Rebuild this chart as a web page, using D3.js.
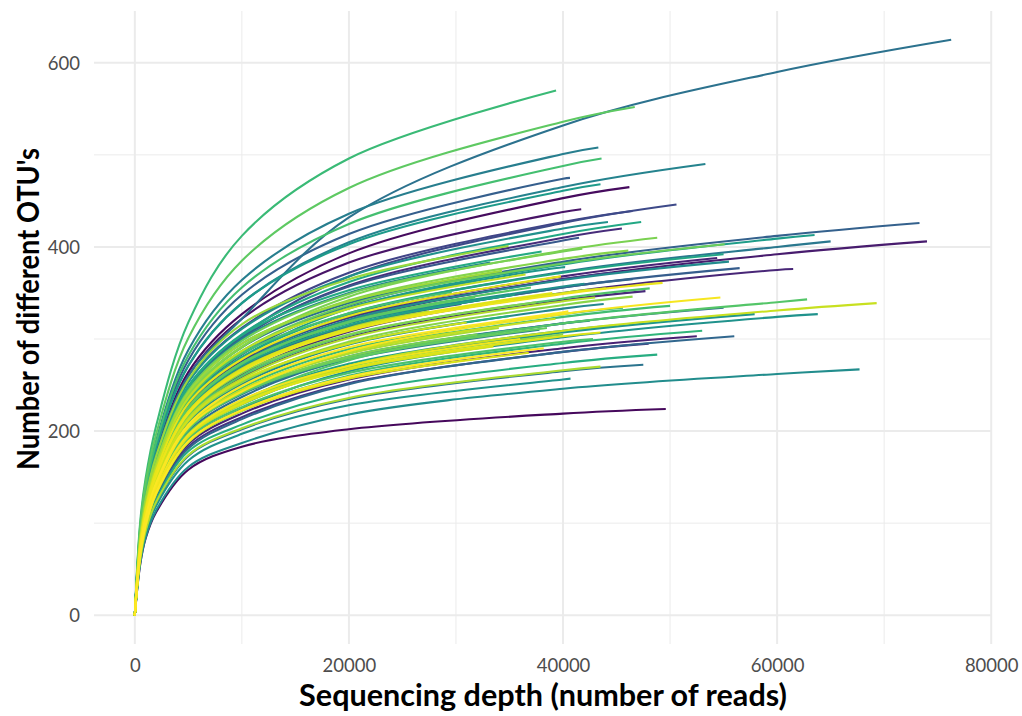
<!DOCTYPE html>
<html><head><meta charset="utf-8">
<script src="https://cdn.jsdelivr.net/npm/d3@7"></script>
<style>body{margin:0;background:#fff;} svg{display:block;} text{font-family: Lato, "Open Sans", sans-serif;}</style>
</head><body><svg id="chart" width="1022" height="716"></svg>
<script>
// depths (reads) at which each curve's OTU count was read
const depthGrid = [500, 1000, 2000, 5000, 10000, 20000, 40000, 60000];
// sample number (categorical, used for the viridis colour and drawing order)
const sampleNo = [3,4,7,10,13,14,12,16,15,19,20,26,29,33,36,39,40,38,41,43,45,46,49,50,52,53,55,54,58,59,60,62,63,65,66,64,68,67,69,71,72,73,75,78,77,79,81,80,85,84,88,89,91,90,92,93,94,95,96,97,98,99,101,102,104,105,103,107,106,108,110,111,112,113,114,115,117,116,118,119,120,121,122,123,124,125,126,127,128,129,130];
// sequencing depth at the end of each curve
const endDepth = [49600,46200,41700,74000,54400,61500,52500,45500,47700,48000,44500,46500,50600,30500,41500,40650,73300,56500,46500,56000,55000,41000,76260,47500,65000,42500,43300,37800,53300,33200,43800,55500,67700,44200,63800,42000,57900,40700,40200,43500,63500,45000,35500,47300,55000,38000,48800,35000,53000,28500,39350,45600,43600,50000,29600,42800,48100,62800,37000,31800,46700,38500,55100,41800,48800,37500,32000,46500,46100,40000,34900,34300,27500,34000,43500,43000,36500,44000,39300,69300,31000,33500,36800,43500,39000,39800,49300,36000,54700,40500,38200];
// number of OTUs at the end of each curve
const endOtu = [224,465,441,406,388,376,303,420,352,295,372,439,446,338,410,475,426,377,365,303,334,385,625,272,406,320,508,310,490,383,338,384,267,427,327,360,327,257,378,468,413,315,348,427,392,395,283,325,309,362,570,334,496,336,351,300,355,343,356,345,552,312,403,398,410,340,305,346,396,305,401,374,330,312,270,345,370,355,322,339,318,292,285,307,350,368,361,300,345,330,290];
// number of OTUs at each depthGrid value (up to the curve's end)
const otuAtGrid = [
 [55,83,112,158,183,202,219],
 [87,129,177,264,327,393,453],
 [86,128,175,260,322,383,438],
 [75,112,153,221,268,319,365,392],
 [77,115,156,228,276,324,368],
 [74,110,151,217,262,308,350,375],
 [64,96,130,186,219,256,290],
 [82,122,167,246,301,358,410],
 [73,109,149,214,258,302,342],
 [63,95,129,183,215,252,286],
 [77,115,157,229,277,323,365],
 [85,125,171,254,312,372,427],
 [83,123,168,248,304,368,426],
 [76,113,154,223,270,314],
 [82,122,168,246,302,357,407],
 [91,135,185,277,348,414,474],
 [79,117,159,233,283,336,384,412],
 [75,112,152,220,266,313,356],
 [75,112,153,221,268,314,356],
 [63,94,128,181,213,251,286],
 [68,102,139,199,237,279,317],
 [80,119,162,238,291,339,383],
 [86,128,175,260,322,432,532,590],
 [60,90,122,173,202,235,265],
 [77,114,155,226,274,326,373,400],
 [69,104,141,202,241,281,317],
 [94,139,190,288,364,436,501],
 [69,103,140,202,240,278],
 [89,133,182,271,339,405,465],
 [82,122,167,245,300,350],
 [71,106,145,209,251,294,333],
 [77,114,155,226,274,321,364],
 [56,84,114,161,187,218,246,262],
 [84,125,171,253,311,368,420],
 [65,97,133,190,224,265,302,324],
 [76,114,155,225,273,317,357],
 [66,99,135,194,229,270,307],
 [59,88,119,168,197,228,256],
 [79,118,161,235,286,334,378],
 [89,133,182,271,339,403,461],
 [78,116,158,231,280,333,381,409],
 [67,101,137,196,233,273,309],
 [76,113,154,224,271,315],
 [83,123,169,249,305,362,414],
 [78,116,158,231,280,328,372],
 [83,123,168,248,304,353],
 [61,92,125,178,207,242,274],
 [72,107,147,212,254,295],
 [64,96,132,188,222,260,295],
 [81,121,165,242,295,341],
 [101,148,206,318,412,496],
 [71,105,143,206,247,289,327],
 [92,137,188,282,356,425,488],
 [70,104,142,205,244,286,324],
 [79,117,160,234,284,328],
 [65,98,134,192,226,263,297],
 [73,110,150,216,260,304,344],
 [67,101,137,198,233,277,317,340],
 [76,114,155,225,273,319],
 [77,114,155,226,274,318],
 [97,143,197,301,385,464,536],
 [69,104,141,202,241,279],
 [80,118,161,236,287,337,382],
 [81,121,166,244,298,349,395],
 [80,119,162,238,291,346,396],
 [74,111,151,218,263,305],
 [70,104,141,204,243,281],
 [72,107,146,211,253,297,337],
 [80,119,163,239,292,342,387],
 [67,100,136,195,232,270],
 [85,126,173,256,316,365],
 [81,121,165,242,295,341],
 [75,112,153,221,268,312],
 [70,104,142,205,244,284],
 [60,91,123,174,203,236,266],
 [73,108,148,214,257,301,341],
 [80,118,161,236,287,333],
 [75,112,152,220,266,310,350],
 [70,105,142,206,245,286],
 [66,99,135,194,229,271,309,331],
 [72,108,147,212,255,295],
 [67,100,136,194,231,267],
 [64,96,132,188,222,257],
 [66,99,135,195,230,268,303],
 [75,112,153,221,267,311],
 [77,115,157,230,278,325],
 [75,111,152,219,265,309,349],
 [67,101,137,196,234,271],
 [70,104,141,204,243,287,327],
 [71,106,144,207,249,291,329],
 [65,97,133,189,223,259]
];
const xTicks = [0, 20000, 40000, 60000, 80000];
const xMinorTicks = [10000, 30000, 50000, 70000];
const yTicks = [0, 200, 400, 600];
const yMinorTicks = [100, 300, 500];
const xTitle = "Sequencing depth (number of reads)";
const yTitle = "Number of different OTU's";

const svg = d3.select("#chart");
const panel = {left: 94, right: 992, top: 11, bottom: 644};
const x = d3.scaleLinear().domain([-3813, 80073]).range([panel.left, panel.right]);
const y = d3.scaleLinear().domain([-31.25, 656.25]).range([panel.bottom, panel.top]);
const color = d3.scaleSequential(d3.interpolateViridis).domain([0, 130]);

const grid = svg.append("g");
grid.selectAll(".vmin").data(xMinorTicks).join("line")
  .attr("x1", d => x(d)).attr("x2", d => x(d)).attr("y1", panel.top).attr("y2", panel.bottom)
  .attr("stroke", "#ebebeb").attr("stroke-width", 1);
grid.selectAll(".hmin").data(yMinorTicks).join("line")
  .attr("y1", d => y(d)).attr("y2", d => y(d)).attr("x1", panel.left).attr("x2", panel.right)
  .attr("stroke", "#ebebeb").attr("stroke-width", 1);
grid.selectAll(".vmaj").data(xTicks).join("line")
  .attr("x1", d => x(d)).attr("x2", d => x(d)).attr("y1", panel.top).attr("y2", panel.bottom)
  .attr("stroke", "#ebebeb").attr("stroke-width", 2);
grid.selectAll(".hmaj").data(yTicks).join("line")
  .attr("y1", d => y(d)).attr("y2", d => y(d)).attr("x1", panel.left).attr("x2", panel.right)
  .attr("stroke", "#ebebeb").attr("stroke-width", 2);

// build curves
const curves = sampleNo.map((s, i) => {
  const pts = [[0, 0]];
  otuAtGrid[i].forEach((v, j) => { if (depthGrid[j] < endDepth[i]) pts.push([depthGrid[j], v]); });
  pts.push([endDepth[i], endOtu[i]]);
  return {s, pts};
}).sort((a, b) => a.s - b.s);

const line = d3.line().x(d => x(d[0])).y(d => y(d[1])).curve(d3.curveCatmullRom.alpha(0.5));
svg.append("g").selectAll("path").data(curves).join("path")
  .attr("d", d => line(d.pts))
  .attr("fill", "none")
  .attr("stroke", d => color(d.s))
  .attr("stroke-width", 2.1)
  .attr("stroke-linecap", "butt");

// axes (ggplot minimal: no axis lines, just labels)
const xAxis = d3.axisBottom(x).tickValues(xTicks).tickFormat(d3.format("d")).tickSize(0).tickPadding(0);
const gx = svg.append("g").attr("transform", `translate(0,${panel.bottom})`).call(xAxis);
gx.select(".domain").remove();
gx.selectAll("text").attr("y", 28).attr("dy", null).attr("fill", "#4d4d4d")
  .style("font-size", "18.5px").style("font-family", "Lato, 'Open Sans', sans-serif");

const yAxis = d3.axisLeft(y).tickValues(yTicks).tickFormat(d3.format("d")).tickSize(0).tickPadding(0);
const gy = svg.append("g").attr("transform", `translate(80,0)`).call(yAxis);
gy.select(".domain").remove();
gy.selectAll("text").attr("x", 0).attr("dy", "0.36em").attr("fill", "#4d4d4d")
  .style("font-size", "18.5px").style("font-family", "Lato, 'Open Sans', sans-serif");

const xt = svg.append("text").text(xTitle)
  .attr("x", (panel.left + panel.right) / 2).attr("y", 706)
  .attr("text-anchor", "middle").attr("font-weight", "bold").attr("fill", "#000")
  .style("font-size", "28px");
const w = xt.node().getComputedTextLength();
const titleSize = 28 * 488 / w;
xt.style("font-size", titleSize + "px");

svg.append("text").text(yTitle)
  .attr("transform", `translate(39,309) rotate(-90)`)
  .attr("text-anchor", "middle").attr("font-weight", "bold").attr("fill", "#000")
  .attr("textLength", 322).attr("lengthAdjust", "spacingAndGlyphs")
  .style("font-size", titleSize + "px");
</script>
</body></html>
